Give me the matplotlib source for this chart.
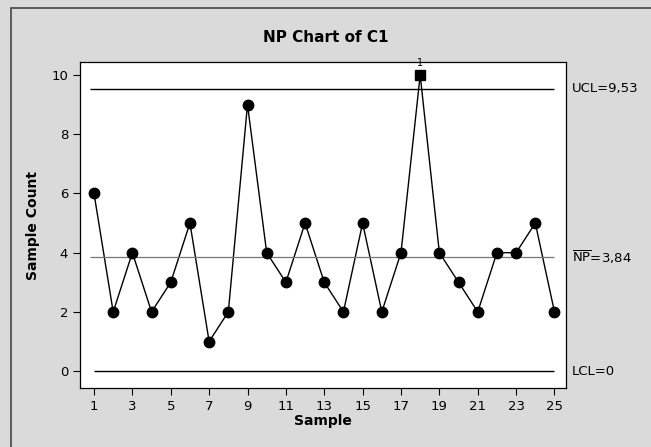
import numpy as np
import matplotlib.pyplot as plt
from matplotlib.patches import Rectangle

# defect counts per sample
samples = np.arange(1, 26)
counts = [6, 2, 4, 2, 3, 5, 1, 2, 9, 4, 3, 5, 3, 2, 5, 2, 4, 10, 4, 3, 2, 4, 4, 5, 2]
ucl = 9.53
center = 3.84
lcl = 0
out_of_control = [18]

fig = plt.figure(figsize=(6.51, 4.47), dpi=100, facecolor='#dadada')
ax = fig.add_axes([80/651, 1 - 388/447, (566-80)/651, (388-62)/447])
ax.set_facecolor('white')

# outer frame of the graph window (runs off the bottom/right edge)
fig.patches.append(Rectangle((11/651, -0.05), 1.0, 1 - 8/447 + 0.05, transform=fig.transFigure,
                             fill=False, edgecolor='#444444', linewidth=1.2))

ax.plot(samples, counts, color='black', linewidth=1.0, zorder=2)
normal = [i for i in range(len(samples)) if samples[i] not in out_of_control]
ax.plot(samples[normal], np.array(counts)[normal], 'o', color='black', markersize=7.5, zorder=3)
for s in out_of_control:
    ax.plot(s, counts[s - 1], 's', color='black', markersize=6.5, zorder=3)
    ax.text(s, counts[s - 1] + 0.25, '1', ha='center', va='bottom', fontsize=7)

ax.hlines(ucl, 0.8, 25, color='black', linewidth=1.0)
ax.hlines(center, 0.8, 25, color='#777777', linewidth=0.9)
ax.hlines(lcl, 1, 25, color='black', linewidth=1.0)

ax.set_xlim(0.27, 25.6)
ax.set_ylim(-0.57, 10.44)

ax.set_xticks(range(1, 26, 2))
ax.set_yticks(range(0, 11, 2))
ax.tick_params(direction='out', length=5, labelsize=9.5, width=0.8)
for sp in ax.spines.values():
    sp.set_linewidth(0.9)

ax.set_xlabel('Sample', fontsize=10, fontweight='bold', labelpad=1)
ax.set_ylabel('Sample Count', fontsize=10, fontweight='bold', labelpad=8)
fig.suptitle('NP Chart of C1', x=0.5, y=1 - 38/447, va='center', fontsize=11, fontweight='bold')

# limit labels to the right of the plot area
ax.text(1.012, ucl, 'UCL=9,53', transform=ax.get_yaxis_transform(), va='center', fontsize=9.5)
ax.text(1.012, center, r'$\overline{\mathrm{NP}}$=3,84', transform=ax.get_yaxis_transform(), va='center', fontsize=9.5)
ax.text(1.012, lcl, 'LCL=0', transform=ax.get_yaxis_transform(), va='center', fontsize=9.5)

fig.savefig('out.png', dpi=100, facecolor=fig.get_facecolor())
